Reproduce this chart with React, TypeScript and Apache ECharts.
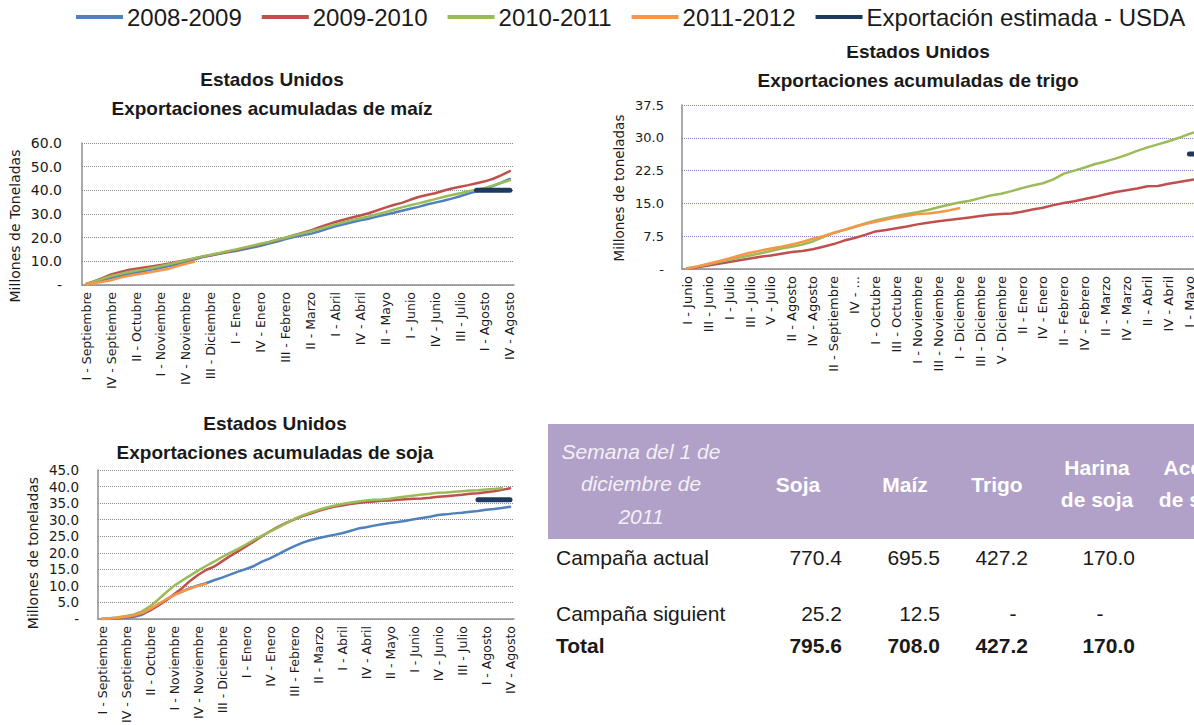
import React, { useEffect, useRef } from "react";
import * as echarts from "echarts";

// ---------- Data ----------
const legendNames = ["2008-2009", "2009-2010", "2010-2011", "2011-2012", "Exportación estimada - USDA"];
const seriesColors = ["#4f81bd", "#c0504d", "#9bbb59", "#f79646", "#1f3a5f"];

// Weekly categories, September–August (maíz, soja)
const sepAugWeeks = [
  "I - Septiembre", "II - Septiembre", "III - Septiembre", "IV - Septiembre", "V - Septiembre",
  "I - Octubre", "II - Octubre", "III - Octubre", "IV - Octubre",
  "I - Noviembre", "II - Noviembre", "III - Noviembre", "IV - Noviembre",
  "I - Diciembre", "II - Diciembre", "III - Diciembre", "IV - Diciembre", "V - Diciembre",
  "I - Enero", "II - Enero", "III - Enero", "IV - Enero",
  "I - Febrero", "II - Febrero", "III - Febrero", "IV - Febrero",
  "I - Marzo", "II - Marzo", "III - Marzo", "IV - Marzo",
  "I - Abril", "II - Abril", "III - Abril", "IV - Abril", "V - Abril",
  "I - Mayo", "II - Mayo", "III - Mayo", "IV - Mayo",
  "I - Junio", "II - Junio", "III - Junio", "IV - Junio",
  "I - Julio", "II - Julio", "III - Julio", "IV - Julio", "V - Julio",
  "I - Agosto", "II - Agosto", "III - Agosto", "IV - Agosto",
];

// Weekly categories, June–May (trigo)
const junMayWeeks = [
  "I - Junio", "II - Junio", "III - Junio", "IV - Junio",
  "I - Julio", "II - Julio", "III - Julio", "IV - Julio", "V - Julio",
  "I - Agosto", "II - Agosto", "III - Agosto", "IV - Agosto",
  "I - Septiembre", "II - Septiembre", "III - Septiembre", "IV - Septiembre", "V - Septiembre",
  "I - Octubre", "II - Octubre", "III - Octubre", "IV - Octubre",
  "I - Noviembre", "II - Noviembre", "III - Noviembre", "IV - Noviembre",
  "I - Diciembre", "II - Diciembre", "III - Diciembre", "IV - Diciembre", "V - Diciembre",
  "I - Enero", "II - Enero", "III - Enero", "IV - Enero",
  "I - Febrero", "II - Febrero", "III - Febrero", "IV - Febrero",
  "I - Marzo", "II - Marzo", "III - Marzo", "IV - Marzo",
  "I - Abril", "II - Abril", "III - Abril", "IV - Abril", "V - Abril",
  "I - Mayo", "II - Mayo", "III - Mayo", "IV - Mayo",
];
const trigoTruncatedTicks: Record<string, string> = { "IV - Septiembre": "IV - ..." };

// Maíz (millones de toneladas, acumulado)
const maiz0809 = [0.3, 1.2, 2.0, 3.0, 3.8, 4.6, 5.3, 5.9, 6.6, 7.3, 8.0, 8.9, 9.7, 10.8, 11.8, 12.5, 13.2, 13.8, 14.4, 15.1, 15.8, 16.6, 17.5, 18.4, 19.4, 20.3, 21.0, 21.6, 22.6, 23.7, 24.8, 25.7, 26.5, 27.3, 28.0, 28.9, 29.7, 30.5, 31.4, 32.2, 33.0, 34.0, 34.8, 35.6, 36.5, 37.5, 38.6, 39.6, 40.6, 41.9, 43.3, 44.8];
const maiz0910 = [0.4, 1.6, 3.0, 4.5, 5.4, 6.3, 6.9, 7.4, 7.9, 8.5, 9.1, 9.8, 10.5, 11.2, 12.0, 12.6, 13.3, 14.0, 14.7, 15.6, 16.4, 17.2, 18.1, 19.0, 20.0, 21.0, 22.0, 23.0, 24.3, 25.5, 26.6, 27.6, 28.5, 29.4, 30.3, 31.5, 32.7, 33.8, 34.7, 36.0, 37.2, 38.0, 38.8, 39.8, 40.8, 41.5, 42.2, 43.0, 43.8, 44.9, 46.4, 48.1];
const maiz1011 = [0.4, 1.5, 2.7, 3.8, 4.6, 5.4, 6.0, 6.6, 7.3, 8.0, 8.8, 9.6, 10.4, 11.3, 12.1, 12.8, 13.5, 14.3, 15.0, 15.8, 16.6, 17.4, 18.2, 19.1, 20.0, 20.9, 21.8, 22.6, 23.6, 24.6, 25.6, 26.5, 27.4, 28.2, 29.0, 29.9, 30.8, 31.8, 32.8, 33.7, 34.5, 35.4, 36.3, 37.2, 38.0, 38.8, 39.6, 40.3, 41.0, 42.1, 43.2, 44.3];
const maiz1112 = [0.2, 0.8, 1.4, 2.0, 3.0, 3.8, 4.4, 5.0, 5.6, 6.2, 6.9, 8.0, 9.0, 9.8];
const maizUsdaStartWeek = 47;
const maizUsda = [40.0, 40.0, 40.0, 40.0, 40.0];

// Trigo
const trigo0910 = [0.1, 0.4, 0.8, 1.2, 1.6, 2.0, 2.4, 2.8, 3.1, 3.5, 3.9, 4.1, 4.5, 5.1, 5.7, 6.5, 7.1, 7.8, 8.6, 8.9, 9.3, 9.7, 10.2, 10.6, 10.9, 11.2, 11.5, 11.8, 12.1, 12.4, 12.6, 12.7, 13.1, 13.6, 14.0, 14.6, 15.1, 15.5, 16.0, 16.5, 17.1, 17.6, 18.0, 18.4, 18.9, 19.0, 19.5, 19.9, 20.3, 20.7];
const trigo1011 = [0.2, 0.6, 1.1, 1.6, 2.1, 2.6, 3.1, 3.6, 4.1, 4.7, 5.1, 5.6, 6.3, 7.3, 8.2, 8.9, 9.6, 10.4, 11.1, 11.6, 12.1, 12.6, 13.0, 13.5, 14.1, 14.7, 15.2, 15.6, 16.2, 16.8, 17.2, 17.8, 18.5, 19.1, 19.6, 20.5, 21.8, 22.5, 23.2, 24.0, 24.6, 25.3, 26.1, 27.0, 27.8, 28.5, 29.2, 30.0, 30.9, 31.6];
const trigo1112 = [0.1, 0.6, 1.2, 1.8, 2.4, 3.1, 3.7, 4.2, 4.7, 5.1, 5.6, 6.2, 6.9, 7.5, 8.3, 9.0, 9.7, 10.3, 10.8, 11.3, 11.8, 12.2, 12.6, 12.7, 13.0, 13.4, 13.9];
const trigoUsdaStartWeek = 48;
const trigoUsda = [26.3, 26.3, 26.3, 26.3];

// Soja
const soja0809 = [0.0, 0.1, 0.2, 0.4, 0.7, 1.3, 2.6, 4.2, 5.8, 7.2, 8.3, 9.3, 10.1, 10.8, 11.7, 12.5, 13.4, 14.3, 15.1, 16.0, 17.3, 18.3, 19.5, 20.8, 21.9, 23.0, 23.8, 24.4, 24.9, 25.4, 25.9, 26.6, 27.3, 27.7, 28.2, 28.6, 29.0, 29.3, 29.7, 30.1, 30.5, 30.9, 31.4, 31.6, 31.9, 32.1, 32.4, 32.6, 33.0, 33.2, 33.5, 33.9];
const soja0910 = [0.0, 0.1, 0.3, 0.6, 1.0, 1.6, 2.6, 4.0, 5.6, 7.5, 9.3, 11.5, 13.3, 14.8, 15.8, 17.4, 19.0, 20.4, 21.9, 23.4, 25.0, 26.5, 27.8, 29.0, 30.0, 31.0, 31.8, 32.6, 33.3, 33.9, 34.3, 34.7, 35.0, 35.3, 35.5, 35.7, 35.8, 36.0, 36.2, 36.3, 36.4, 36.6, 36.9, 37.1, 37.3, 37.5, 37.8, 38.0, 38.3, 38.6, 39.0, 39.5];
const soja1011 = [0.0, 0.2, 0.5, 0.9, 1.4, 2.3, 3.8, 5.8, 8.0, 10.0, 11.6, 13.1, 14.6, 16.0, 17.3, 18.7, 20.0, 21.2, 22.5, 23.9, 25.2, 26.4, 27.6, 28.9, 30.2, 31.2, 32.1, 32.9, 33.6, 34.2, 34.7, 35.1, 35.5, 35.8, 36.0, 36.1, 36.3, 36.7, 37.0, 37.3, 37.6, 37.8, 38.1, 38.2, 38.4, 38.6, 38.8, 38.9, 39.1, 39.3, 39.5];
const soja1112 = [0.0, 0.2, 0.4, 0.7, 1.1, 1.8, 3.0, 4.5, 5.9, 7.2, 8.3, 9.2, 10.0, 10.6];
const sojaUsdaStartWeek = 47;
const sojaUsda = [36.0, 36.0, 36.0, 36.0, 36.0];

// Tabla (miles de toneladas)
const tableTitle = ["Semana del 1 de", "diciembre de", "2011"];
const tableColumns = [["Soja"], ["Maíz"], ["Trigo"], ["Harina", "de soja"], ["Aceite", "de soja"]];
const rowLabels = ["Campaña actual", "Campaña siguient", "Total"];
const campanaActual = [770.4, 695.5, 427.2, 170.0];
const campanaSiguiente: (number | null)[] = [25.2, 12.5, null, null];
const totalRow = [795.6, 708.0, 427.2, 170.0];

// ---------- Helpers ----------
const AXIS_FONT = "DejaVu Sans";
const SANS = "Liberation Sans";
const TEXT = "#1a1a1a";

function lineSeries(name: string, data: any[], color: string, gi: number, width = 2.5) {
  return {
    type: "line",
    name,
    data,
    xAxisIndex: gi,
    yAxisIndex: gi,
    symbol: "none",
    showSymbol: false,
    silent: true,
    lineStyle: { color, width, cap: "round", join: "round" },
    itemStyle: { color },
    z: 3,
  };
}

function usdaData(start: number, values: number[]) {
  return values.map((v, i) => [start + i, v]);
}

function yAxis(gi: number, max: number, interval: number, gridColor: string, fontSize: number, margin: number) {
  return {
    gridIndex: gi,
    type: "value",
    min: 0,
    max,
    interval,
    axisLine: { show: true, lineStyle: { color: "#8c8c8c", width: 1.5 } },
    axisTick: { show: false },
    splitLine: { show: true, lineStyle: { type: "dotted", color: gridColor, width: 1 } },
    axisLabel: {
      formatter: (v: number) => (v === 0 ? "-" : v.toFixed(1)),
      fontFamily: AXIS_FONT,
      fontSize,
      color: TEXT,
      margin,
    },
  };
}

function xAxis(gi: number, data: string[], interval: number, fontSize: number, truncated: Record<string, string> = {}) {
  return {
    gridIndex: gi,
    type: "category",
    data,
    boundaryGap: true,
    axisLine: { show: true, lineStyle: { color: "#8c8c8c", width: 1.5 } },
    axisTick: { show: false },
    splitLine: { show: false },
    axisLabel: {
      interval,
      rotate: 90,
      fontFamily: AXIS_FONT,
      fontSize,
      color: TEXT,
      margin: 7,
      formatter: (v: string) => truncated[v] ?? v,
    },
  };
}

function txt(text: string, x: number, y: number, opts: any = {}) {
  return {
    type: "text",
    x,
    y,
    rotation: opts.rotation ?? 0,
    z: opts.z ?? 5,
    silent: true,
    style: {
      text,
      fontFamily: opts.fontFamily ?? SANS,
      fontSize: opts.fontSize ?? 18,
      fontWeight: opts.fontWeight ?? "normal",
      fontStyle: opts.fontStyle ?? "normal",
      fill: opts.fill ?? TEXT,
      align: opts.align ?? "center",
      verticalAlign: "middle",
    },
  };
}

export default function App() {
  const ref = useRef<HTMLDivElement>(null);

  useEffect(() => {
    if (!ref.current) return;
    const chart = echarts.init(ref.current, undefined, { renderer: "svg" });

    const graphics: any[] = [];
    // Chart titles
    const titleOpts = { fontSize: 19, fontWeight: "bold", z: 5 };
    graphics.push(txt("Estados Unidos", 272, 79, titleOpts));
    graphics.push(txt("Exportaciones acumuladas de maíz", 272, 108, titleOpts));
    graphics.push(txt("Estados Unidos", 918, 51, titleOpts));
    graphics.push(txt("Exportaciones acumuladas de trigo", 918, 80, titleOpts));
    graphics.push(txt("Estados Unidos", 275, 423, titleOpts));
    graphics.push(txt("Exportaciones acumuladas de soja", 275, 452, titleOpts));
    // white band hiding the top of the wheat chart's first title line (as in the source image)
    graphics.push({ type: "rect", z: 8, silent: true, shape: { x: 820, y: 0, width: 200, height: 46 }, style: { fill: "#ffffff" } });

    // Axis names
    const nameOpts = { fontFamily: AXIS_FONT, fontSize: 14, rotation: Math.PI / 2 };
    graphics.push(txt("Millones de Toneladas", 15, 226, nameOpts));
    graphics.push(txt("Millones de toneladas", 619, 188, { ...nameOpts, fontSize: 13.5 }));
    graphics.push(txt("Millones de toneladas", 33, 553, nameOpts));

    // Table
    graphics.push({ type: "rect", z: 2, silent: true, shape: { x: 548, y: 424, width: 660, height: 115 }, style: { fill: "#b1a0c7" } });
    tableTitle.forEach((t, i) =>
      graphics.push(txt(t, 641, 451 + i * 32.5, { fontSize: 21, fontStyle: "italic", fill: "#f4f0f8" }))
    );
    const colCenters = [798, 905, 997, 1097, 1195];
    tableColumns.forEach((lines, c) => {
      const startY = lines.length === 1 ? 484 : 467;
      lines.forEach((l, k) =>
        graphics.push(txt(l, colCenters[c], startY + k * 32, { fontSize: 21, fontWeight: "bold", fill: "#ffffff" }))
      );
    });
    const rowY = [557, 613, 645];
    rowLabels.forEach((l, r) =>
      graphics.push(txt(l, 556, rowY[r], { fontSize: 21, align: "left", fontWeight: r === 2 ? "bold" : "normal" }))
    );
    const valueRight = [842, 940, 1028, 1135];
    const dashX = [818, 916, 1013, 1100];
    [campanaActual, campanaSiguiente, totalRow].forEach((row, r) => {
      row.forEach((v, c) => {
        if (v === null) {
          graphics.push(txt("-", dashX[c], rowY[r], { fontSize: 21 }));
        } else {
          graphics.push(
            txt(v.toFixed(1), valueRight[c], rowY[r], { fontSize: 21, align: "right", fontWeight: r === 2 ? "bold" : "normal" })
          );
        }
      });
    });

    const option: any = {
      animation: false,
      backgroundColor: "#ffffff",
      textStyle: { fontFamily: SANS },
      legend: {
        data: legendNames,
        left: 76,
        top: 5,
        padding: 0,
        icon: "rect",
        itemWidth: 47,
        itemHeight: 4,
        itemGap: 20,
        selectedMode: false,
        z: 20,
        textStyle: { fontFamily: SANS, fontSize: 24, color: TEXT, padding: [0, 0, 0, -1] },
      },
      grid: [
        { left: 82, top: 143, width: 432, height: 142, containLabel: false, outerBoundsMode: "none" },
        { left: 682, top: 105, width: 544, height: 164, containLabel: false, outerBoundsMode: "none" },
        { left: 98, top: 470, width: 416, height: 149, containLabel: false, outerBoundsMode: "none" },
      ],
      xAxis: [
        xAxis(0, sepAugWeeks, 2, 12.5),
        xAxis(1, junMayWeeks, 1, 13, trigoTruncatedTicks),
        xAxis(2, sepAugWeeks, 2, 12.5),
      ],
      yAxis: [
        yAxis(0, 60, 10, "#8a8a8a", 14, 20),
        yAxis(1, 37.5, 7.5, "#8c7bbf", 13, 18),
        yAxis(2, 45, 5, "#8a8a8a", 13.5, 19),
      ],
      graphic: graphics,
      series: [
        lineSeries(legendNames[0], maiz0809, seriesColors[0], 0),
        lineSeries(legendNames[1], maiz0910, seriesColors[1], 0),
        lineSeries(legendNames[2], maiz1011, seriesColors[2], 0),
        lineSeries(legendNames[3], maiz1112, seriesColors[3], 0),
        lineSeries(legendNames[4], usdaData(maizUsdaStartWeek, maizUsda), seriesColors[4], 0, 5),

        lineSeries(legendNames[1], trigo0910, seriesColors[1], 1),
        lineSeries(legendNames[2], trigo1011, seriesColors[2], 1),
        lineSeries(legendNames[3], trigo1112, seriesColors[3], 1),
        lineSeries(legendNames[4], usdaData(trigoUsdaStartWeek, trigoUsda), seriesColors[4], 1, 5),

        lineSeries(legendNames[0], soja0809, seriesColors[0], 2),
        lineSeries(legendNames[1], soja0910, seriesColors[1], 2),
        lineSeries(legendNames[2], soja1011, seriesColors[2], 2),
        lineSeries(legendNames[3], soja1112, seriesColors[3], 2),
        lineSeries(legendNames[4], usdaData(sojaUsdaStartWeek, sojaUsda), seriesColors[4], 2, 5),
      ],
    };

    chart.setOption(option);
    return () => chart.dispose();
  }, []);

  return (
    <div
      ref={ref}
      style={{ position: "absolute", left: 0, top: 0, width: 1194, height: 725, background: "#ffffff" }}
    />
  );
}
